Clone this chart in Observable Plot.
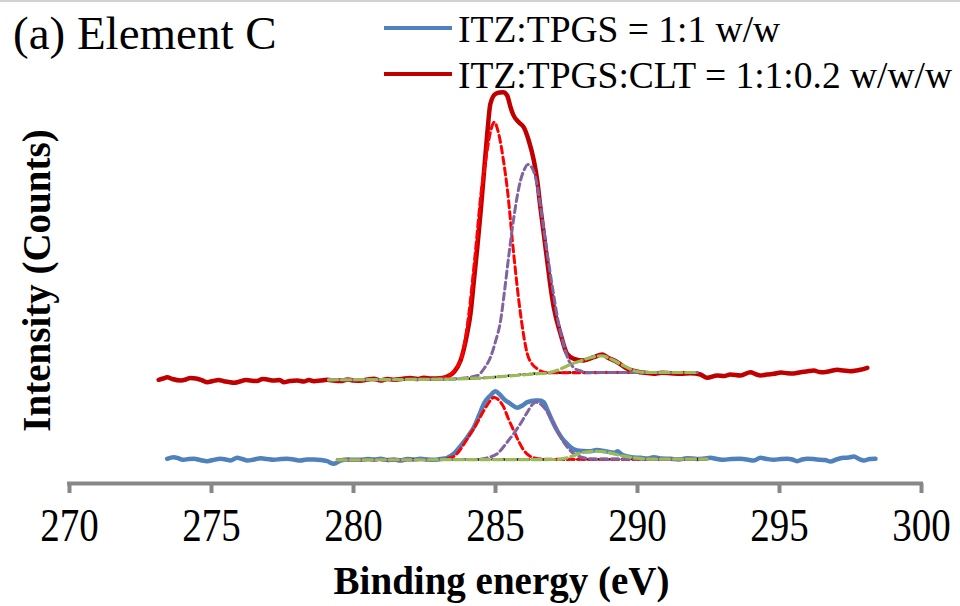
<!DOCTYPE html>
<html>
<head>
<meta charset="utf-8">
<script src="https://cdn.jsdelivr.net/npm/d3@7"></script>
<script src="https://cdn.jsdelivr.net/npm/@observablehq/plot@0.6"></script>
<style>
  html, body { margin: 0; padding: 0; background: #fff; }
  #chart { position: relative; width: 960px; height: 606px; overflow: hidden; font-family: "Liberation Serif", "Times New Roman", serif; }
  #chart .rule-top { position: absolute; left: 0; top: 0; width: 960px; height: 2px; background: #d2d2d2; }
  #chart .title { position: absolute; left: 13px; top: 10px; font-size: 47px; line-height: 47px; white-space: nowrap; color: #000; }
  #chart .swatch { position: absolute; left: 384px; width: 68px; height: 4px; }
  #chart .legend-text { position: absolute; left: 458px; font-size: 37.5px; line-height: 37.5px; white-space: nowrap; color: #000; }
  #chart svg { position: absolute; left: 0; top: 0; }
</style>
</head>
<body>
<div id="chart"></div>
<script>
// C 1s spectra: binding energy (eV), intensity (arbitrary counts, offset per sample)
const xTicks = [270, 275, 280, 285, 290, 295, 300];
const titleText = "(a) Element C";
const xLabel = ["Binding energy (eV)"];
const yLabel = ["Intensity (Counts)"];
const seriesNames = ["ITZ:TPGS = 1:1 w/w", "ITZ:TPGS:CLT = 1:1:0.2 w/w/w"];
const seriesColors = ["#4F81BD", "#C00000"];

// ITZ:TPGS:CLT measured envelope
const cltTotal = [
  [273.14,103.7],[273.30,105],[273.44,106.3],[273.62,104.5],[273.91,103],[274.10,104],[274.25,105.5],
  [274.50,104.7],[274.68,103],[274.85,101.3],[275.05,102.5],[275.25,103.5],[275.43,102.3],[275.60,101.5],
  [275.79,100.7],[276.00,102],[276.20,103.5],[276.37,103],[276.60,102.5],[276.80,104.5],[276.96,104],
  [277.20,103],[277.40,103.5],[277.55,101.3],[277.75,102.5],[278.02,103],[278.25,102],[278.43,103.5],
  [278.60,102.3],[278.85,103],[279.07,103.7],[279.30,103],[279.55,102.5],[279.80,104],[280.01,103],
  [280.25,102.8],[280.50,104],[280.71,104.7],[280.95,103],[281.20,104.5],[281.42,103.7],[281.70,104.5],
  [282.00,105.5],[282.25,104.5],[282.48,105.7],[282.75,105],[283.06,105.3],[283.30,107],[283.53,111.3],
  [283.77,123],[284.00,149.7],[284.12,169.7],[284.24,203],[284.36,236.3],[284.47,269.7],[284.59,309.7],
  [284.71,349.7],[284.82,379.7],[285.00,389.7],[285.15,391],[285.27,391.3],[285.41,388],[285.53,376.3],
  [285.62,369],[285.82,361.3],[286.00,356],[286.17,343],[286.35,323],[286.47,303],[286.58,276.3],
  [286.70,249.7],[286.82,223],[286.94,196.3],[287.05,176.3],[287.29,149.7],[287.52,129.7],[287.76,124.7],
  [288.11,123],[288.46,126.3],[288.76,129],[288.93,126.3],[289.29,121.3],[289.64,114.7],[290.11,111.3],
  [290.35,110.5],[290.57,109.7],[290.85,110.8],[291.16,110.3],[291.51,109.7],[291.86,110.3],[292.22,109],
  [292.45,105.7],[292.81,108],[293.05,107.5],[293.27,109],[293.63,108],[293.98,111.3],[294.15,109.5],
  [294.33,108],[294.55,109],[294.80,109.7],[295.05,111],[295.27,110.3],[295.50,110],[295.74,111.3],
  [295.95,112],[296.21,113],[296.40,111.5],[296.56,111.3],[296.80,112.5],[297.03,113.7],[297.25,113],
  [297.50,112.3],[297.70,113],[297.85,113.7],[298.09,115.7]
];

// ITZ:TPGS:CLT fitted components
const cltBackground = [
  [279.12,103.7],[280.5,104],[282.0,104.2],[283.5,104.5],[284.2,105],[284.8,106],[285.3,107.3],
  [285.9,108.8],[286.5,110],[287.2,110.7],[288.0,111],[292.1,111]
];
const cltPeak1 = [
  [279.12,103.7],[282.5,104.2],[283.1,105.5],[283.45,110],[283.80,126],[284.04,165],[284.28,228],
  [284.51,295],[284.64,320],[284.81,350],[284.96,361.3],[285.11,350],[285.28,323],[285.41,296],
  [285.64,229.7],[285.88,169.7],[286.12,129.7],[286.30,119],[286.47,114.7],[286.82,110.7],[287.5,110.8],
  [292.1,111]
];
const cltPeak2 = [
  [279.12,103.7],[283.0,104.2],[283.52,104.5],[283.9,105.5],[284.37,108],[284.6,115],[284.82,126],
  [285.0,142],[285.18,163],[285.32,193],[285.46,226],[285.63,263],[285.88,303],[286.0,313],[286.14,319],
  [286.28,316],[286.41,306],[286.55,284],[286.69,256],[286.86,223],[287.04,190],[287.2,163],[287.39,140],
  [287.55,125],[287.75,116],[288.0,112.5],[288.24,111],[292.1,111]
];
const cltPeak3 = [
  [279.12,103.7],[283.5,104.5],[284.5,105.5],[285.5,107.5],[286.5,109.8],[286.82,110.5],[287.05,112],
  [287.29,114.5],[287.64,119],[287.99,122.5],[288.23,125],[288.50,127],[288.76,127.7],[288.95,126],
  [289.17,123],[289.40,119.5],[289.64,116],[289.85,113],[290.11,111.5],[290.5,111],[292.1,111]
];

// ITZ:TPGS measured envelope
const tpgsTotal = [
  [273.44,24.7],[273.67,26.3],[273.85,25],[274.02,23.7],[274.20,24.5],[274.38,24.7],[274.60,23.5],
  [274.85,22.3],[275.05,23.5],[275.32,24.7],[275.50,24],[275.67,23],[275.90,25.7],[276.08,24.5],
  [276.26,23],[276.50,24],[276.73,25.3],[276.95,24.5],[277.19,23.7],[277.45,24.5],[277.67,24.7],
  [277.90,24],[278.13,23],[278.35,24],[278.60,24],[278.85,23.5],[279.07,22.3],[279.31,19.7],[279.54,23],
  [279.80,24],[280.05,23.7],[280.25,23.7],[280.50,24.5],[280.73,24],[280.95,24.7],[281.20,23.5],
  [281.43,24],[281.65,23],[281.90,24.5],[282.12,24],[282.36,24.7],[282.60,24],[282.83,23.7],[283.06,24.5],
  [283.30,25.7],[283.53,29.7],[283.70,35],[283.88,41.3],[284.05,48],[284.24,56.3],[284.42,68],
  [284.59,79.7],[284.82,88],[285.00,92.3],[285.15,89],[285.29,84.7],[285.53,79.7],[285.76,75.7],
  [285.95,78],[286.12,81.3],[286.41,83],[286.55,83],[286.70,81.3],[286.82,74],[286.94,66.3],[287.17,53],
  [287.35,45],[287.52,39.7],[287.70,35],[287.88,33],[288.10,32.5],[288.35,32.3],[288.55,33.5],
  [288.70,33],[289.05,31.3],[289.20,30.5],[289.29,32.3],[289.45,29],[289.64,27],[289.85,26],[290.11,25.7],
  [290.35,25],[290.57,26.3],[290.85,25],[291.16,24.7],[291.45,24],[291.75,25.3],[292.10,24.5],
  [292.35,25],[292.57,25.7],[292.80,24.5],[293.04,23.7],[293.30,24.5],[293.63,24.7],[293.85,24],
  [294.10,23],[294.33,25.7],[294.55,24.5],[294.80,23.7],[295.05,24.5],[295.27,24.7],[295.45,24],
  [295.62,22.3],[295.80,24],[295.98,24.7],[296.20,24.5],[296.44,23.7],[296.60,23.5],[296.80,22],
  [297.00,24],[297.26,25.7],[297.45,26],[297.62,27],[297.80,24.5],[297.97,23],[298.18,24.5],[298.38,24.7]
];

// ITZ:TPGS fitted components
const tpgsBackground = [[279.43,23.7],[292.45,24.3]];
const tpgsPeak1 = [
  [279.43,23.7],[283.0,24],[283.30,25],[283.53,27],[283.71,32],[283.88,39],[284.10,49],[284.36,61],
  [284.55,71],[284.71,78.5],[284.85,84],[284.94,86.3],[285.05,85],[285.29,76.3],[285.45,65],[285.64,53],
  [285.82,42],[286.00,33],[286.18,28],[286.35,25.7],[286.7,24.3],[292.45,24.3]
];
const tpgsPeak2 = [
  [279.43,23.7],[284.3,24],[284.71,25.7],[285.06,29.7],[285.41,41.3],[285.76,54.7],[285.95,63],
  [286.12,71.3],[286.30,79],[286.41,81.3],[286.52,80.5],[286.70,76.3],[287.05,59.7],[287.40,41.3],
  [287.76,29.7],[288.11,25.7],[288.5,24.5],[292.45,24.3]
];
const tpgsPeak3 = [
  [279.43,23.7],[287.2,24],[287.52,25.7],[287.99,30.3],[288.46,32.3],[288.93,31.3],[289.40,28],
  [289.87,25.7],[290.57,24.3],[292.45,24.3]
];

const serif = "'Liberation Serif', 'Times New Roman', serif";
const X = d => d[0], Y = d => d[1];

const envelope = (data, color) =>
  Plot.line(data, {x: X, y: Y, stroke: color, strokeWidth: 4.5, curve: "monotone-x", strokeLinejoin: "round", strokeLinecap: "round"});
const component = (data, color, dash, width = 3) =>
  Plot.line(data, {x: X, y: Y, stroke: color, strokeWidth: width, strokeDasharray: dash, curve: "monotone-x"});

const componentSet = (bg, p1, p2, p3) => [
  component(bg, "#000", "2,3", 2.4),
  component(p1, "#FF0000", "7,4"),
  component(p2, "#8064A2", "7,4"),
  component(p3, "#9BBB59", "9,4", 3.2)
];

const chart = Plot.plot({
  width: 960,
  height: 606,
  marginLeft: 69,
  marginRight: 39,
  marginTop: 83,
  marginBottom: 123,
  style: {fontFamily: serif, background: "transparent", color: "#000"},
  x: {domain: [270, 300]},
  y: {domain: [0, 400], axis: null},
  marks: [
    envelope(tpgsTotal, seriesColors[0]),
    envelope(cltTotal, seriesColors[1]),
    ...componentSet(tpgsBackground, tpgsPeak1, tpgsPeak2, tpgsPeak3),
    ...componentSet(cltBackground, cltPeak1, cltPeak2, cltPeak3),
    Plot.ruleY([0], {stroke: "#878787", strokeWidth: 4, strokeLinecap: "square"}),
    Plot.axisX({ticks: xTicks, tickSize: 10, tickPadding: 14, fontSize: 39, stroke: "#878787", strokeWidth: 4, fill: "#000", label: null}),
    Plot.text(xLabel, {text: d => d, frameAnchor: "bottom", lineAnchor: "middle", textAnchor: "middle", dy: 98, dx: 6, fontSize: 39, fontWeight: "bold", fill: "#000"}),
    Plot.text(yLabel, {text: d => d, frameAnchor: "left", lineAnchor: "middle", textAnchor: "middle", rotate: -90, dx: -32, dy: -3, fontSize: 39, fontWeight: "bold", fill: "#000"})
  ]
});

const root = document.getElementById("chart");
root.appendChild(chart);

// the tick numerals are set tall and narrow
chart.querySelectorAll("g[aria-label='x-axis tick label'] text").forEach(t => {
  t.setAttribute("transform", (t.getAttribute("transform") || "") + " scale(1,1.2)");
});

const topRule = document.createElement("div");
topRule.className = "rule-top";
root.appendChild(topRule);

const title = document.createElement("div");
title.className = "title";
title.textContent = titleText;
root.appendChild(title);

// legend rows
const swatchTops = [26, 72];
const textTops = [10.6, 56.6];
seriesNames.forEach((name, i) => {
  const sw = document.createElement("div");
  sw.className = "swatch";
  sw.style.top = swatchTops[i] + "px";
  sw.style.background = seriesColors[i];
  root.appendChild(sw);
  const tx = document.createElement("div");
  tx.className = "legend-text";
  tx.style.top = textTops[i] + "px";
  tx.textContent = name;
  root.appendChild(tx);
});
</script>
</body>
</html>
